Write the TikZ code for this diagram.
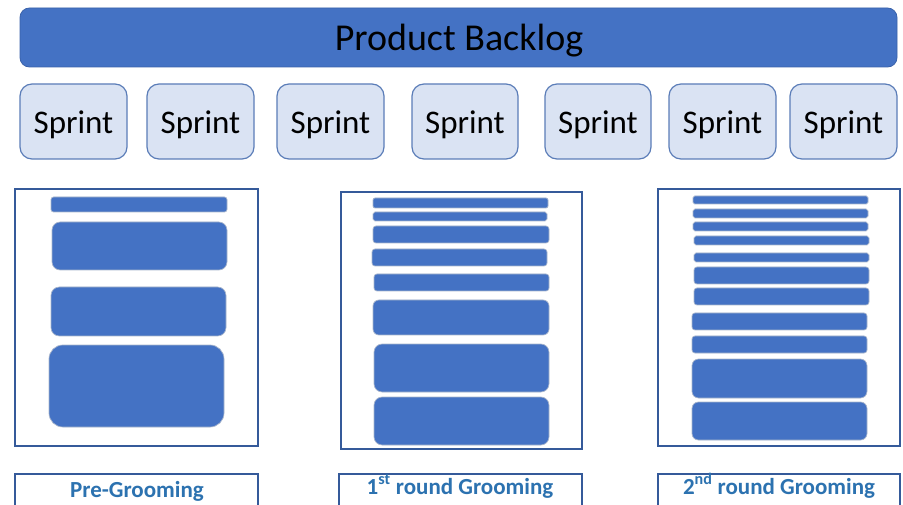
\documentclass[tikz,border=0pt]{standalone}
\usepackage{fontspec}
\setmainfont{Carlito}
\definecolor{pbfill}{HTML}{4472C4}
\definecolor{pbline}{HTML}{3A62AA}
\definecolor{spfill}{HTML}{DAE3F3}
\definecolor{spline}{HTML}{5B7DB8}
\definecolor{panline}{HTML}{355A9A}
\definecolor{barline}{HTML}{A9B6CC}
\definecolor{lbltext}{HTML}{2C72B0}
\newcommand\rbox[8]{%
  \pgfmathsetmacro\rr{#8*min(#4-#2,#5-#3)}%
  \node[#6, inner sep=0pt, outer sep=0pt, minimum width={(#4-#2)*1pt}, minimum height={(#5-#3)*1pt}, rounded corners=\rr pt] (#1) at ({(#2+#4)/2},{(#3+#5)/2}) {#7};%
}
\tikzset{
  backlog/.style={fill=pbfill, draw=pbline, line width=0.8pt, font=\fontsize{38}{42}\selectfont, text=black},
  sprintbox/.style={fill=spfill, draw=spline, line width=1.2pt, font=\fontsize{33}{38}\selectfont, text=black},
  panel/.style={draw=panline, line width=2.8pt, fill=white},
  bar/.style={fill=pbfill, draw=barline, line width=0.7pt},
  lblbox/.style={draw=panline, line width=2.8pt, fill=white},
  lbl/.style={font=\fontsize{23}{26}\selectfont\bfseries, text=lbltext, inner sep=0pt}
}
\begin{document}
\begin{tikzpicture}[x=1pt, y=-1pt]
\clip (0,0) rectangle (903,505);
\fill[white] (0,0) rectangle (903,505);
% backlog
\rbox{pb}{20}{8}{897}{67}{backlog}{}{0.16}
\node[font=\fontsize{38}{42}\selectfont, inner sep=0pt, anchor=base] (pbt) at (459,51) {Product Backlog};
% sprints
\rbox{s1}{20}{84}{127}{159}{sprintbox}{}{0.16}
\rbox{s2}{147}{84}{254}{159}{sprintbox}{}{0.16}
\rbox{s3}{277}{84}{384}{159}{sprintbox}{}{0.16}
\rbox{s4}{412}{84}{518}{159}{sprintbox}{}{0.16}
\rbox{s5}{545}{84}{651}{159}{sprintbox}{}{0.16}
\rbox{s6}{669}{84}{776}{159}{sprintbox}{}{0.16}
\rbox{s7}{790}{84}{897}{159}{sprintbox}{}{0.16}
\foreach \s in {s1,s2,s3,s4,s5,s6,s7}{
  \node[font=\fontsize{33}{38}\selectfont, inner sep=0pt, anchor=base] (\s t) at ([yshift=-12pt]\s.center) {Sprint};
}
% panel 1
\rbox{p1}{15}{189}{258}{446}{panel}{}{0}
\rbox{a1}{51}{197}{227}{212}{bar}{}{0.17}
\rbox{a2}{52}{222}{227}{270}{bar}{}{0.17}
\rbox{a3}{51}{287}{226}{336}{bar}{}{0.17}
\rbox{a4}{49}{345}{224}{427}{bar}{}{0.17}
% panel 2
\rbox{p2}{341}{192}{582}{449}{panel}{}{0}
\rbox{b1}{373}{198}{548}{208}{bar}{}{0.2}
\rbox{b2}{373}{212}{547}{221}{bar}{}{0.2}
\rbox{b3}{373}{226}{549}{243}{bar}{}{0.17}
\rbox{b4}{372}{249}{547}{266}{bar}{}{0.17}
\rbox{b5}{374}{274}{549}{291}{bar}{}{0.17}
\rbox{b6}{373}{300}{549}{335}{bar}{}{0.17}
\rbox{b7}{374}{344}{549}{392}{bar}{}{0.17}
\rbox{b8}{374}{397}{549}{445}{bar}{}{0.17}
% panel 3
\rbox{p3}{658}{189}{900}{446}{panel}{}{0}
\rbox{c1}{693}{196}{868}{204}{bar}{}{0.2}
\rbox{c2}{693}{209}{868}{218}{bar}{}{0.2}
\rbox{c3}{693}{222}{868}{231}{bar}{}{0.2}
\rbox{c4}{694}{236}{869}{245}{bar}{}{0.2}
\rbox{c5}{694}{253}{869}{262}{bar}{}{0.2}
\rbox{c6}{694}{267}{869}{284}{bar}{}{0.17}
\rbox{c7}{694}{288}{869}{305}{bar}{}{0.17}
\rbox{c8}{692}{313}{867}{330}{bar}{}{0.17}
\rbox{c9}{692}{336}{867}{353}{bar}{}{0.17}
\rbox{c10}{692}{359}{867}{398}{bar}{}{0.17}
\rbox{c11}{692}{402}{867}{440}{bar}{}{0.17}
% labels
\rbox{l1}{15}{474}{258}{520}{lblbox}{}{0}
\rbox{l2}{339}{474}{582}{520}{lblbox}{}{0}
\rbox{l3}{658}{474}{900}{520}{lblbox}{}{0}
\node[lbl, anchor=base] (t1) at (137,497) {Pre-Grooming};
\node[lbl, anchor=base] (t2) at (460,494) {1\textsuperscript{st} round Grooming};
\node[lbl, anchor=base] (t3) at (779,494) {2\textsuperscript{nd} round Grooming};
\end{tikzpicture}
\end{document}
